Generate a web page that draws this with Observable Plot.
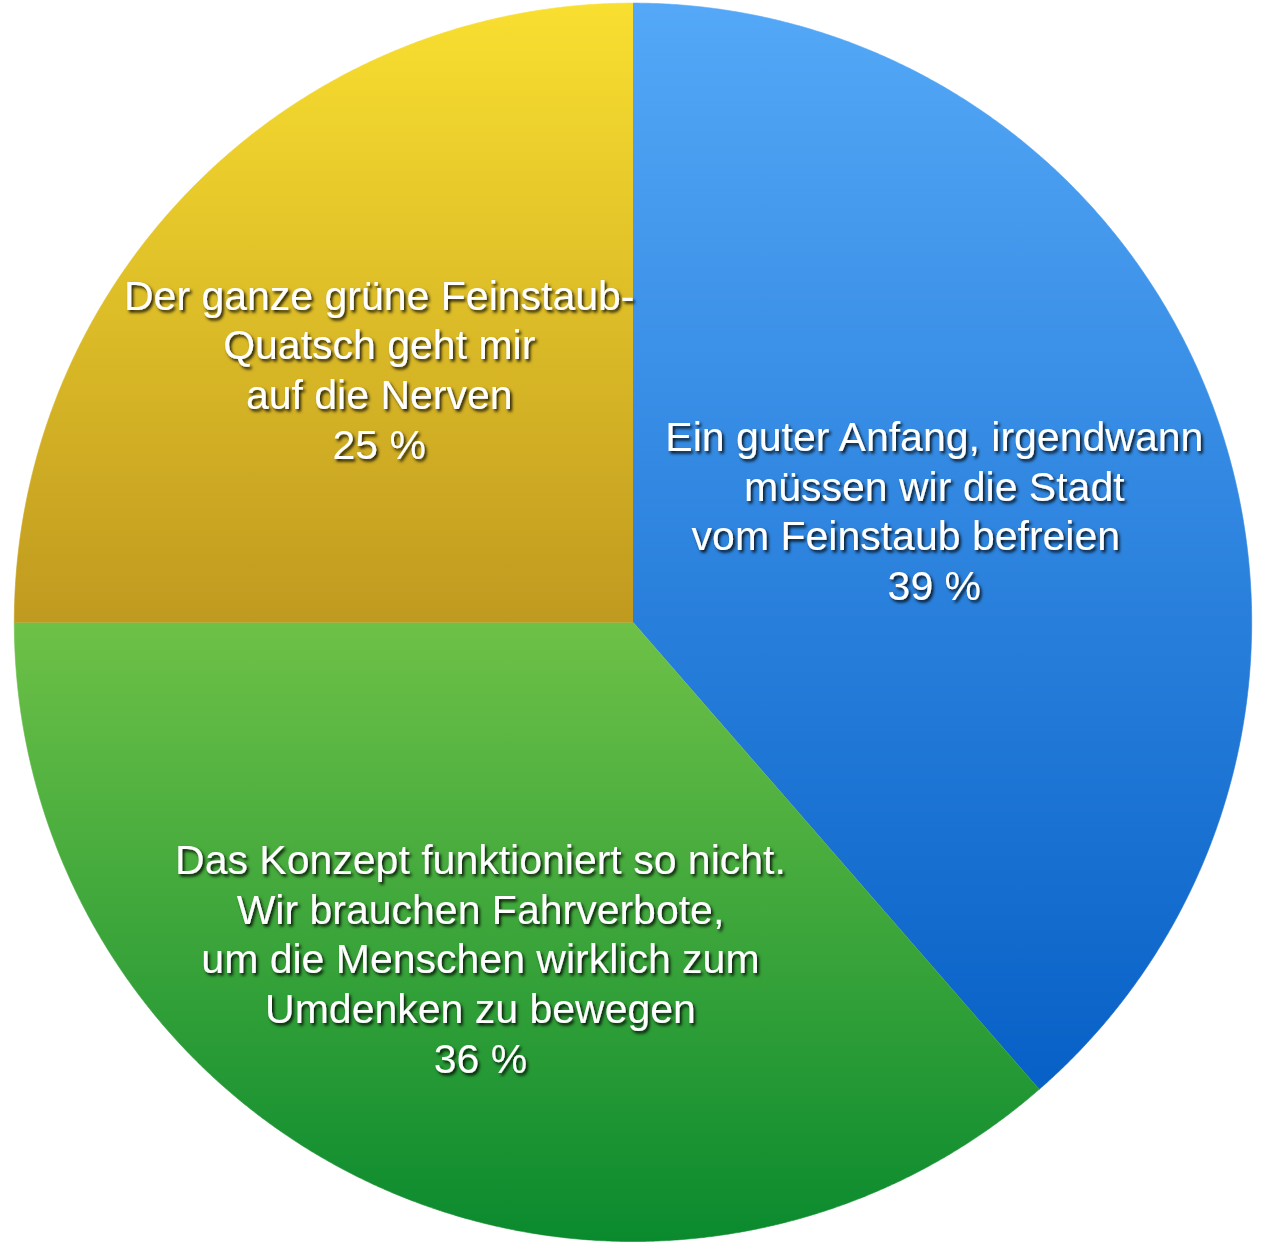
<!DOCTYPE html>
<html>
<head>
<meta charset="utf-8">
<script src="https://cdn.jsdelivr.net/npm/d3@7"></script>
<script src="https://cdn.jsdelivr.net/npm/@observablehq/plot@0.6"></script>
<style>
  html, body { margin: 0; padding: 0; background: #ffffff; }
  #chart svg { display: block; }
</style>
</head>
<body>
<div id="chart"></div>
<script>
// ---- data ----
const categories = [
  "Ein guter Anfang, irgendwann\nmüssen wir die Stadt\nvom Feinstaub befreien\u00a0\u00a0\u00a0\u00a0\u00a0",
  "Das Konzept funktioniert so nicht.\nWir brauchen Fahrverbote,\num die Menschen wirklich zum\nUmdenken zu bewegen",
  "Der ganze grüne Feinstaub-\nQuatsch geht mir\nauf die Nerven"
];
const values = [38.6, 36.4, 25];
const shareLabels = ["39 %", "36 %", "25 %"];

// ---- style / layout ----
const gradTop = ["#54a8f7", "#6ec147", "#f9df30"];
const gradBottom = ["#0760c6", "#0a8a2e", "#c09a1f"];
const labelRadius = [0.52, 0.595, 0.58];

const arcs = d3.pie().sort(null).value(d => d)(values);

const slices = arcs.map((a, i) => {
  const pts = [{slice: i, x: 0, y: 0}];
  const n = Math.max(2, Math.ceil((a.endAngle - a.startAngle) / (Math.PI / 720)));
  for (let k = 0; k <= n; k++) {
    const t = a.startAngle + (a.endAngle - a.startAngle) * k / n;
    pts.push({slice: i, x: Math.sin(t), y: Math.cos(t)});
  }
  return pts;
});

const labelData = arcs.map((a, i) => {
  const m = (a.startAngle + a.endAngle) / 2;
  return {
    x: labelRadius[i] * Math.sin(m),
    y: labelRadius[i] * Math.cos(m),
    text: categories[i] + "\n" + shareLabels[i]
  };
});

function defsMark() {
  const defs = d3.create("svg:defs");
  gradTop.forEach((c, i) => {
    const g = defs.append("linearGradient")
      .attr("id", "sliceGrad" + i)
      .attr("x1", 0).attr("y1", 0).attr("x2", 0).attr("y2", 1);
    g.append("stop").attr("offset", "0%").attr("stop-color", c);
    g.append("stop").attr("offset", "100%").attr("stop-color", gradBottom[i]);
  });
  const f = defs.append("filter").attr("id", "txtShadow")
    .attr("x", "-10%").attr("y", "-20%").attr("width", "120%").attr("height", "150%");
  f.append("feDropShadow").attr("dx", 2).attr("dy", 2.5).attr("stdDeviation", 1.5)
    .attr("flood-color", "#000").attr("flood-opacity", 0.85);
  return defs.node();
}

const chart = Plot.plot({
  width: 1262,
  height: 1249,
  margin: 0,
  x: {domain: [-1, 1], range: [13.8, 1251.2], axis: null},
  y: {domain: [-1, 1], range: [1241, 2.6], axis: null},
  style: {background: "transparent", fontFamily: "'Liberation Sans', Arial, Helvetica, sans-serif"},
  marks: [
    defsMark,
    ...slices.map((pts, i) => Plot.line(pts, {
      x: "x", y: "y",
      fill: `url(#sliceGrad${i})`,
      stroke: `url(#sliceGrad${i})`,
      strokeWidth: 0.6,
      curve: "linear"
    })),
    Plot.text(labelData, {
      x: "x", y: "y", text: "text",
      fill: "white",
      fontSize: 41,
      lineHeight: 1.21,
      textAnchor: "middle",
      lineAnchor: "middle"
    })
  ]
});

d3.select(chart).selectAll("g[aria-label='text']").attr("filter", "url(#txtShadow)");
document.getElementById("chart").appendChild(chart);
</script>
</body>
</html>
